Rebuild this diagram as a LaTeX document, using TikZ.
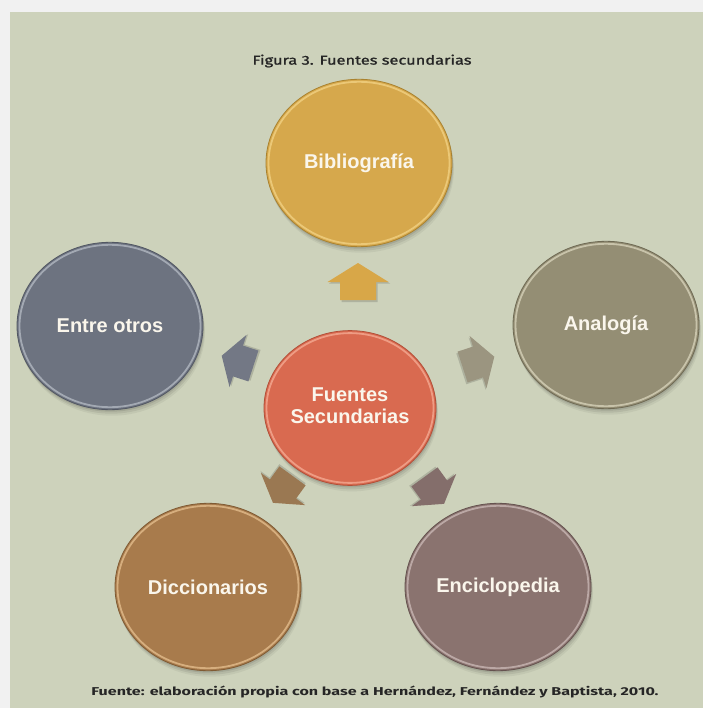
\documentclass[tikz,border=0pt]{standalone}
\usepackage{fontspec}
\setmainfont{Liberation Sans}
\newfontfamily\capfont{Fira Sans}
\newfontfamily\titlefont[FakeBold=1.2]{Fira Sans}
\usetikzlibrary{shapes.geometric}
\definecolor{outerbg}{HTML}{F1F1F1}
\definecolor{bg}{HTML}{CDD2BB}
\definecolor{labeltext}{HTML}{FAF6EC}
\definecolor{captext}{HTML}{262626}
\definecolor{bibfill}{HTML}{D6A84C}\definecolor{bibrim}{HTML}{EBC877}\definecolor{bibedge}{HTML}{A9822F}
\definecolor{entfill}{HTML}{6D7380}\definecolor{entrim}{HTML}{A3A9B3}\definecolor{entedge}{HTML}{525763}
\definecolor{anafill}{HTML}{948E74}\definecolor{anarim}{HTML}{C8C3AA}\definecolor{anaedge}{HTML}{6F6A54}
\definecolor{cenfill}{HTML}{D96A50}\definecolor{cenrim}{HTML}{EE9C84}\definecolor{cenedge}{HTML}{B24F38}
\definecolor{dicfill}{HTML}{A87B4C}\definecolor{dicrim}{HTML}{D6AE7E}\definecolor{dicedge}{HTML}{7F5A33}
\definecolor{encfill}{HTML}{8A736F}\definecolor{encrim}{HTML}{BBA8A5}\definecolor{encedge}{HTML}{65524F}
\definecolor{arrup}{HTML}{D8A748}
\definecolor{arrleft}{HTML}{737885}
\definecolor{arrright}{HTML}{9B9580}
\definecolor{arrll}{HTML}{9A7852}
\definecolor{arrlr}{HTML}{846E6B}
\newcommand\mybubble[8]{% name, x, y, fill, rim, edge, rx, text
  \foreach \o/\a in {6/0.05,4/0.07,2/0.09}
    \fill[black,opacity=\a] (#2+\o/3,#3+\o) ellipse [x radius=#7, y radius=#7*0.9];
  \node[bubble, fill=#4, draw=#6, minimum width=2*#7, minimum height=1.8*#7] (#1) at (#2,#3) {#8};
  \draw[#5, line width=1.8pt] (#1.center) ellipse [x radius=#7-2.5, y radius=#7*0.9-2.5];
}
\newcommand\myarrow[5]{% x, y, rotate, scale, colour
  \begin{scope}[shift={(#1,#2)}, rotate=#3, scale=#4]
    \fill[black,opacity=0.15] (1.5,-17.5) -- (32,1.5) -- (19.5,1.5) -- (19.5,20) -- (-16.5,20) -- (-16.5,1.5) -- (-29,1.5) -- cycle;
    \fill[#5] (0,-19) -- (30.5,0) -- (18,0) -- (18,18) -- (-18,18) -- (-18,0) -- (-30.5,0) -- cycle;
  \end{scope}
}
\begin{document}
\begin{tikzpicture}[x=1pt,y=-1pt,
  bubble/.style={ellipse, inner sep=0pt, line width=0.8pt, text=labeltext,
    font=\fontsize{20}{23}\selectfont\bfseries, align=center}]
\useasboundingbox (0,0) rectangle (703,708);
\fill[outerbg] (0,0) rectangle (703,708);
\fill[bg] (10,12) rectangle (703,708);
% title
\node[text=captext, inner sep=0pt] (title) at (362,61)
  {\resizebox{219pt}{10pt}{\titlefont Figura 3. Fuentes secundarias}};
% arrows
\myarrow{358}{282}{0}{1}{arrup}
\myarrow{238}{361}{72}{0.9}{arrleft}
\myarrow{478}{362}{-72}{0.9}{arrright}
\myarrow{283}{489}{144}{0.9}{arrll}
\myarrow{434}{490}{-144}{0.9}{arrlr}
% bubbles
\mybubble{bib}{359}{163}{bibfill}{bibrim}{bibedge}{93}{Bibliografía}
\mybubble{ent}{110}{326}{entfill}{entrim}{entedge}{93}{Entre otros}
\mybubble{ana}{606}{325}{anafill}{anarim}{anaedge}{93}{Analogía}
\mybubble{dic}{208}{587}{dicfill}{dicrim}{dicedge}{93}{Diccionarios}
\mybubble{enc}{498}{587}{encfill}{encrim}{encedge}{93}{Enciclopedia}
\mybubble{cen}{350}{408}{cenfill}{cenrim}{cenedge}{86}{\raisebox{11pt}{\begin{tabular}{@{}c@{}}Fuentes\\[-1pt]Secundarias\end{tabular}}}
% caption
\node[text=captext, inner sep=0pt] (caption) at (375,692)
  {\resizebox{567pt}{9.5pt}{\capfont\bfseries Fuente: elaboración propia con base a Hernández, Fernández y Baptista, 2010.}};
\end{tikzpicture}
\end{document}
